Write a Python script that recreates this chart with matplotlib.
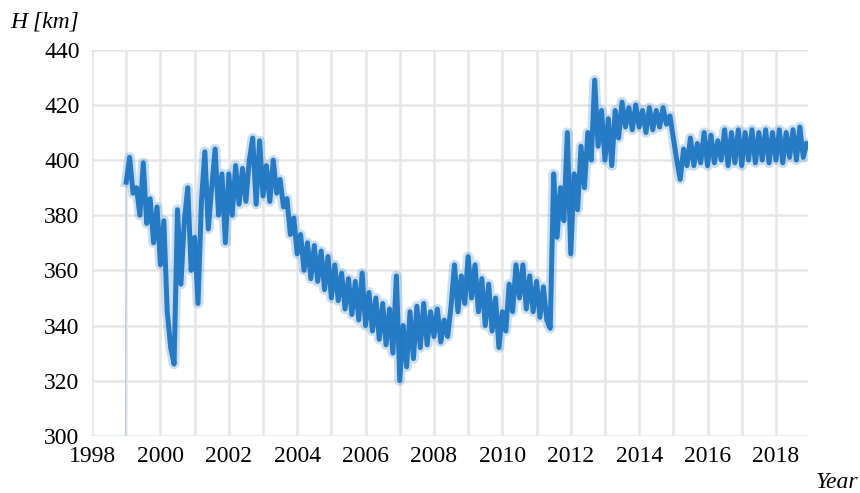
import matplotlib.pyplot as plt
import numpy as np

# Orbit altitude of the station, one reading every 0.1 year from 1998.9
start_year = 1998.9
step_year = 0.1
altitude_km = [
    0,
    392, 401, 388, 390, 380, 399, 377, 386, 370, 383,   # 1999
    362, 378, 345, 332, 326, 382, 355, 378, 390, 360,   # 2000
    372, 348, 385, 403, 375, 390, 404, 380, 395, 370,   # 2001
    395, 380, 398, 384, 397, 385, 400, 408, 384, 407,   # 2002
    387, 398, 385, 400, 388, 393, 383, 386, 373, 379,   # 2003
    366, 373, 360, 370, 357, 369, 356, 367, 353, 365,   # 2004
    350, 362, 349, 359, 346, 357, 344, 356, 342, 359,   # 2005
    340, 352, 338, 350, 335, 348, 333, 346, 330, 358,   # 2006
    320, 340, 325, 345, 328, 347, 332, 348, 333, 345,   # 2007
    336, 346, 334, 342, 336, 347, 362, 345, 358, 348,   # 2008
    365, 350, 362, 345, 357, 340, 355, 338, 350, 332,   # 2009
    345, 338, 355, 345, 362, 350, 362, 346, 358, 345,   # 2010
    356, 343, 354, 342, 339, 395, 372, 390, 378, 410,   # 2011
    366, 395, 382, 405, 390, 410, 400, 429, 405, 418,   # 2012
    400, 415, 398, 418, 408, 421, 412, 419, 411, 420,   # 2013
    412, 418, 410, 419, 411, 418, 412, 419, 413, 416,   # 2014
    408, 400, 393, 404, 398, 408, 398, 406, 399, 410,   # 2015
    398, 409, 399, 407, 400, 411, 398, 410, 399, 411,   # 2016
    398, 410, 400, 411, 399, 410, 400, 411, 399, 410,   # 2017
    400, 411, 399, 410, 401, 411, 400, 412, 401, 406,   # 2018
]
years = start_year + step_year * np.arange(len(altitude_km))

year_ticks = list(range(1998, 2019, 2))
h_ticks = list(range(300, 441, 20))

plt.rcParams['font.family'] = ['Liberation Serif', 'DejaVu Serif']

fig = plt.figure(figsize=(8.6, 4.93), dpi=100)
ax = fig.add_axes([0.107, 0.116, 0.833, 0.783])

blue = '#1570c0'
# launch segment drawn faint, then the orbit track with a soft halo
ax.plot(years[:2], altitude_km[:2], color=blue, lw=0.8, alpha=0.25)
ax.plot(years[1:], altitude_km[1:], color=blue, lw=7.5, alpha=0.22,
        solid_joinstyle='round')
ax.plot(years[1:], altitude_km[1:], color=blue, lw=3.6, alpha=0.9,
        solid_joinstyle='round')

ax.set_xlim(1998, 2018.95)
ax.set_ylim(300, 440)
ax.set_xticks(year_ticks)
ax.set_xticks(range(1999, 2019), minor=True)
ax.set_yticks(h_ticks)
ax.tick_params(which='both', length=0, labelsize=17)
ax.tick_params(axis='x', pad=7)
ax.tick_params(axis='y', pad=9)
ax.grid(which='both', color='#e6e6e6', lw=1.8)
ax.set_axisbelow(True)
for s in ax.spines.values():
    s.set_visible(False)

fig.text(0.012, 0.955, 'H [km]', fontsize=17, style='italic', va='center')
fig.text(0.998, 0.022, 'Year', fontsize=17, style='italic', ha='right',
         va='center')

fig.savefig('out.png', dpi=100)
